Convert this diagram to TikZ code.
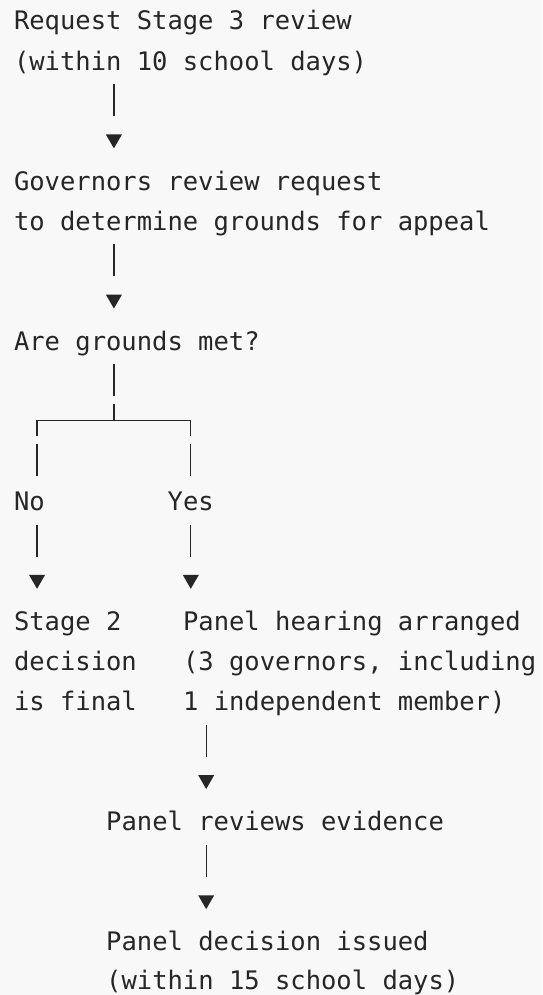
\documentclass[tikz,border=0pt]{standalone}
\usepackage{fontspec}
\setmonofont{DejaVu Sans Mono}
\usetikzlibrary{shapes.geometric}
\definecolor{bg}{HTML}{F8F8F8}
\definecolor{ink}{HTML}{262626}
\begin{document}
\begin{tikzpicture}[x=1pt,y=-1pt,
  txt/.style={anchor=base west,inner sep=0pt,outer sep=0pt,text=ink,font=\ttfamily\fontsize{25.5}{40}\selectfont},
  tri/.style={regular polygon,regular polygon sides=3,shape border rotate=180,fill=ink,draw=none,inner sep=0pt,minimum size=18.5pt},
  bar/.style={draw=ink,line width=1.3pt}]
\fill[bg] (0,0) rectangle (542,995);
\useasboundingbox (0,0) rectangle (542,995);
% text nodes
\node[txt] (t1) at (14,30) {Request Stage 3 review};
\node[txt] (t2) at (14,70.04) {(within 10 school days)};
\node[txt] (g1) at (14,190.16) {Governors review request};
\node[txt] (g2) at (14,230.2) {to determine grounds for appeal};
\node[txt] (q) at (14,350.32) {Are grounds met?};
\node[txt] (no) at (14,510.48) {No};
\node[txt] (yes) at (167.7,510.48) {Yes};
\node[txt] (s1) at (14,630.6) {Stage 2};
\node[txt] (s2) at (14,670.64) {decision};
\node[txt] (s3) at (14,710.68) {is final};
\node[txt] (p1) at (183.07,630.6) {Panel hearing arranged};
\node[txt] (p2) at (183.07,670.64) {(3 governors, including};
\node[txt] (p3) at (183.07,710.68) {1 independent member)};
\node[txt] (e) at (106.22,830.8) {Panel reviews evidence};
\node[txt] (d1) at (106.22,950.92) {Panel decision issued};
\node[txt] (d2) at (106.22,989.5) {(within 15 school days)};
% triangles
\node[tri] (a1) at (113.9,139.12) {};
\node[tri] (a2) at (113.9,299.28) {};
\node[tri] (a3) at (37.05,579.56) {};
\node[tri] (a4) at (190.8,579.56) {};
\node[tri] (a5) at (206.2,779.76) {};
\node[tri] (a6) at (206.2,899.88) {};
% bar coordinates
\coordinate (b1t) at (113.9,84.08);  \coordinate (b1b) at (113.9,116.08);
\coordinate (b2t) at (113.9,244.24); \coordinate (b2b) at (113.9,276.24);
\coordinate (b3t) at (113.9,364.36); \coordinate (b3b) at (113.9,396.36);
\coordinate (jt) at (113.9,404.4);   \coordinate (jm) at (113.9,420.4);
\coordinate (lc) at (37.05,420.4);   \coordinate (rc) at (190.8,420.4);
\coordinate (lcb) at (37.05,436.4);  \coordinate (rcb) at (190.8,436.4);
\coordinate (l1t) at (37.05,444.44); \coordinate (l1b) at (37.05,476.44);
\coordinate (r1t) at (190.8,444.44); \coordinate (r1b) at (190.8,476.44);
\coordinate (l2t) at (37.05,524.52); \coordinate (l2b) at (37.05,556.52);
\coordinate (r2t) at (190.8,524.52); \coordinate (r2b) at (190.8,556.52);
\coordinate (b4t) at (206.2,724.72); \coordinate (b4b) at (206.2,756.72);
\coordinate (b5t) at (206.2,844.84); \coordinate (b5b) at (206.2,876.84);
% bars
\draw[bar] (b1t) -- (b1b);
\draw[bar] (b2t) -- (b2b);
\draw[bar] (b3t) -- (b3b);
\draw[bar] (jt) -- (jm);
\draw[bar] (lcb) -- (lc) -- (rc) -- (rcb);
\draw[bar] (l1t) -- (l1b);
\draw[bar] (r1t) -- (r1b);
\draw[bar] (l2t) -- (l2b);
\draw[bar] (r2t) -- (r2b);
\draw[bar] (b4t) -- (b4b);
\draw[bar] (b5t) -- (b5b);
\end{tikzpicture}
\end{document}
